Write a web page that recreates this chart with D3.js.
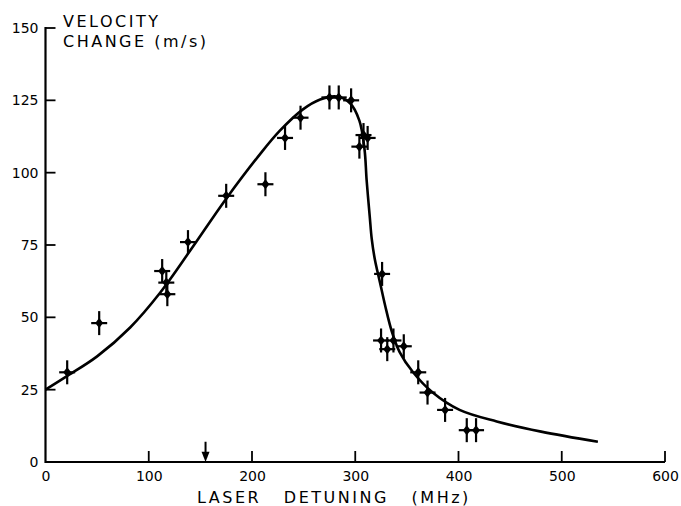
<!DOCTYPE html>
<meta charset="utf-8">
<style>
body { margin: 0; background: #fff; }
svg text { font-family: 'DejaVu Sans', sans-serif; fill: #000; }
.tick-label { font-size: 14px; }
.title { font-size: 16px; letter-spacing: 2.5px; }
</style>
<body>
<script src="https://d3js.org/d3.v7.min.js"></script>
<script>

// measured points (MHz, m/s)
var detuning = [21, 52, 113, 117, 118, 138, 175, 213, 232, 247, 275, 284, 296, 304, 308, 312, 326, 325, 331, 337, 347, 361, 370, 387, 408, 417];
var velocity = [31, 48, 66, 62, 58, 76, 92, 96, 112, 119, 126, 126, 125, 109, 113, 112, 65, 42, 39, 42, 40, 31, 24, 18, 11, 11];

// fitted curve
var curveX = [0, 20, 50, 82, 111, 140, 175, 208, 227, 249, 266, 282, 295, 304, 309, 311, 314, 316, 319, 324, 329, 335.5, 343, 356, 375, 401, 437, 480, 535];
var curveY = [25, 29.5, 36.5, 46.5, 58.5, 73, 91, 106.5, 114.5, 121.8, 125.3, 126.3, 124, 118, 108, 97.5, 85, 77, 70, 62, 54, 45, 38, 31, 24, 18, 14, 10.5, 7];

var xTicks = [0, 100, 200, 300, 400, 500, 600];
var yTicks = [0, 25, 50, 75, 100, 125, 150];
var arrowAt = 155;

var width = 681, height = 506;

var x = d3.scaleLinear().domain([0, 600]).range([45.5, 665]);
var y = d3.scaleLinear().domain([0, 150]).range([462, 28]);

var svg = d3.select("body").append("svg")
    .attr("width", width)
    .attr("height", height);

// tick labels from d3 axes, lines drawn separately
var xAxis = d3.axisBottom(x).tickValues(xTicks).tickSize(0).tickPadding(9);
var gx = svg.append("g")
    .attr("transform", "translate(0," + y(0) + ")")
    .call(xAxis);
gx.select(".domain").remove();
gx.selectAll("text").attr("class", "tick-label").attr("font-size", null).attr("font-family", null);

var yAxis = d3.axisLeft(y).tickValues(yTicks).tickSize(0).tickPadding(7);
var gy = svg.append("g")
    .attr("transform", "translate(" + x(0) + ",0)")
    .call(yAxis);
gy.select(".domain").remove();
gy.selectAll("text").attr("class", "tick-label").attr("font-size", null).attr("font-family", null);

// axis lines
svg.append("line")
    .attr("x1", x(0)).attr("x2", x(600))
    .attr("y1", y(0)).attr("y2", y(0))
    .attr("stroke", "#000").attr("stroke-width", 2.2);
svg.append("line")
    .attr("x1", x(0)).attr("x2", x(0))
    .attr("y1", y(0) + 1).attr("y2", y(150) - 1)
    .attr("stroke", "#000").attr("stroke-width", 2.2);

// tick marks pointing inward
svg.selectAll(".xt").data(xTicks.slice(1)).enter().append("line")
    .attr("x1", function(d) { return x(d); })
    .attr("x2", function(d) { return x(d); })
    .attr("y1", y(0)).attr("y2", y(0) - 11)
    .attr("stroke", "#000").attr("stroke-width", 1.8);
svg.selectAll(".yt").data(yTicks.slice(1)).enter().append("line")
    .attr("x1", x(0)).attr("x2", x(0) + 10)
    .attr("y1", function(d) { return y(d); })
    .attr("y2", function(d) { return y(d); })
    .attr("stroke", "#000").attr("stroke-width", 1.8);

// fitted curve
var pts = curveX.map(function(d, i) { return [d, curveY[i]]; });
svg.append("path")
    .datum(pts)
    .attr("fill", "none")
    .attr("stroke", "#000")
    .attr("stroke-width", 2.6)
    .attr("d", d3.line()
        .x(function(d) { return x(d[0]); })
        .y(function(d) { return y(d[1]); })
        .curve(d3.curveCatmullRom.alpha(0.5)));

// data points with error bars
var data = detuning.map(function(d, i) { return {f: d, v: velocity[i]}; });
var pt = svg.selectAll(".pt").data(data).enter().append("g")
    .attr("transform", function(d) { return "translate(" + x(d.f) + "," + y(d.v) + ")"; });
pt.append("line")
    .attr("x1", 0).attr("x2", 0).attr("y1", -12).attr("y2", 12)
    .attr("stroke", "#000").attr("stroke-width", 2.2);
pt.append("line")
    .attr("x1", -8).attr("x2", 8).attr("y1", 0).attr("y2", 0)
    .attr("stroke", "#000").attr("stroke-width", 2.2);
pt.append("path")
    .attr("d", "M0,-5L4,0L0,5L-4,0Z")
    .attr("fill", "#000");

// arrow on the x axis
svg.append("line")
    .attr("x1", x(arrowAt)).attr("x2", x(arrowAt))
    .attr("y1", y(7)).attr("y2", y(2))
    .attr("stroke", "#000").attr("stroke-width", 2);
svg.append("path")
    .attr("d", "M" + (x(arrowAt) - 4) + "," + y(3.5) + "L" + (x(arrowAt) + 4) + "," + y(3.5) + "L" + x(arrowAt) + "," + y(0) + "Z")
    .attr("fill", "#000");

// titles
svg.append("text").attr("class", "title")
    .attr("x", 63).attr("y", 27).text("VELOCITY");
svg.append("text").attr("class", "title")
    .attr("x", 63).attr("y", 47).text("CHANGE (m/s)");

svg.append("text").attr("class", "title")
    .attr("x", 197).attr("y", 503)
    .style("white-space", "pre")
    .text("LASER   DETUNING   (MHz)");

</script>
</body>
